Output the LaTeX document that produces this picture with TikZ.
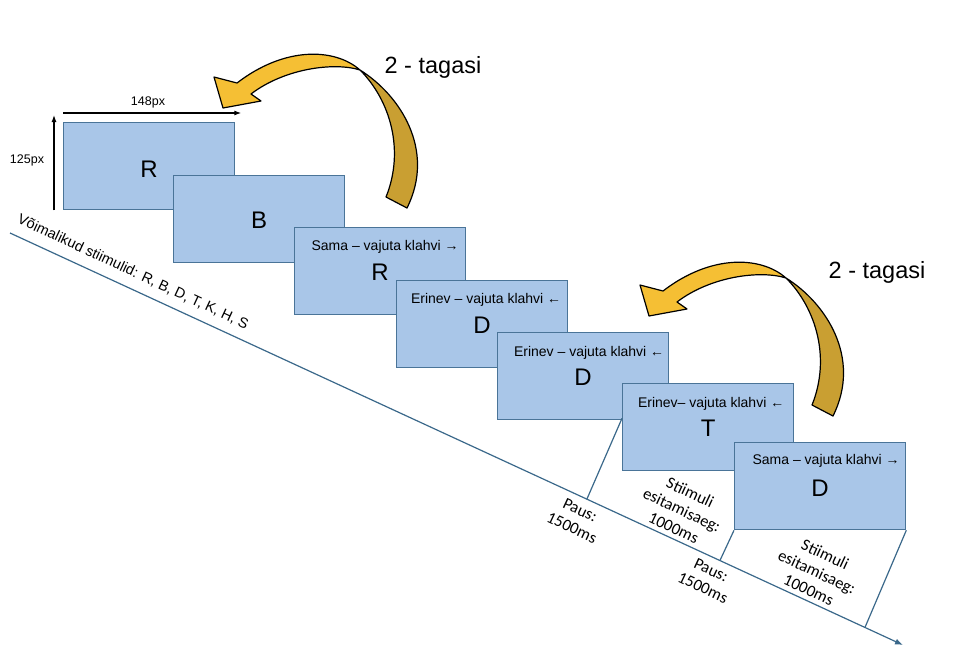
\documentclass[tikz,border=0pt]{standalone}
\usepackage{fontspec}
\setmainfont{Liberation Sans}
\newfontfamily\calfont{Carlito}
\usetikzlibrary{calc,arrows.meta}
\definecolor{boxfill}{RGB}{169,198,232}
\definecolor{boxline}{RGB}{74,116,152}
\definecolor{tline}{RGB}{58,104,138}
\definecolor{arrlight}{RGB}{245,191,52}
\definecolor{arrdark}{RGB}{201,159,50}
\begin{document}
\begin{tikzpicture}[x=1pt,y=-1pt,
  stim/.style={draw=boxline, fill=boxfill, line width=1.3pt, minimum width=171pt, minimum height=87pt, anchor=north west, inner sep=0pt},
  cue/.style={font=\fontsize{14}{17}\selectfont, anchor=base, inner sep=0pt},
  letter/.style={font=\fontsize{24}{28}\selectfont, anchor=base, inner sep=0pt},
  tl/.style={draw=tline, line width=1.2pt},
  tlabel/.style={font=\calfont\fontsize{16.5}{19.5}\selectfont, align=center, rotate=-25, inner sep=0pt},
  dim/.style={draw=black, line width=1.2pt, -{Latex[length=7pt,width=5pt]}},
  curv/.style={draw=black, line width=1.2pt, line join=round},
  bigtxt/.style={font=\fontsize{23.5}{27}\selectfont, anchor=base, inner sep=0pt},
  curvarrow/.pic={
    \draw[curv, fill=arrdark] (360,70) .. controls (400,95) and (436,150) .. (407,208)
      -- (386,197) .. controls (405,150) and (390,100) .. (360,70) -- cycle;
    \draw[curv, fill=arrlight] (360,70) .. controls (335,48) and (285,46) .. (237,83)
      -- (214,77) -- (223,108) -- (261,101) -- (251,94)
      .. controls (285,68) and (335,62) .. (360,70) -- cycle;
  }
]
\useasboundingbox (0,0) rectangle (975,662);

% timeline
\coordinate (t0) at (10,233);
\coordinate (t1) at (903,645);
\draw[tl, -{Latex[length=8pt,width=6pt]}] (t0) -- (t1);

% stimulus boxes
\node[stim] (b1) at (63,122) {};
\node[stim] (b2) at (173,175) {};
\node[stim] (b3) at (294,227) {};
\node[stim] (b4) at (396,280) {};
\node[stim] (b5) at (497,332) {};
\node[stim] (b6) at (622,383) {};
\node[stim] (b7) at (734,442) {};

% segment lines
\coordinate (m1) at ($(t0)!0.646!(t1)$);
\coordinate (m2) at ($(t0)!0.795!(t1)$);
\coordinate (m3) at ($(t0)!0.9574!(t1)$);
\coordinate (e6) at ($(b6.north west)!0.4!(b6.south west)$);
\draw[tl] (m1) -- (e6);
\draw[tl] (m2) -- (b7.south west);
\draw[tl] (m3) -- (b7.south east);

% box texts
\node[letter] (l1) at ($(b1.north)+(0,55)$) {R};
\node[letter] (l2) at ($(b2.north)+(0,53)$) {B};
\node[cue] (c3) at ($(b3.north)+(5,23)$) {Sama – vajuta klahvi →};
\node[letter] (l3) at ($(b3.north)+(0,53)$) {R};
\node[cue] (c4) at ($(b4.north)+(4,23)$) {Erinev – vajuta klahvi ←};
\node[letter] (l4) at ($(b4.north)+(0,53)$) {D};
\node[cue] (c5) at ($(b5.north)+(6,24)$) {Erinev – vajuta klahvi ←};
\node[letter] (l5) at ($(b5.north)+(0,53)$) {D};
\node[cue] (c6) at ($(b6.north)+(3,24)$) {Erinev– vajuta klahvi ←};
\node[letter] (l6) at ($(b6.north)+(0,53)$) {T};
\node[cue] (c7) at ($(b7.north)+(6,22)$) {Sama – vajuta klahvi →};
\node[letter] (l7) at ($(b7.north)+(0,54)$) {D};

% dimension arrows
\coordinate (h0) at ($(b1.north west)+(0,-9)$);
\coordinate (h1) at ($(b1.north east)+(6,-9)$);
\draw[dim] (h0) -- (h1);
\node[font=\fontsize{12.5}{15}\selectfont] (wlab) at (148,102) {148px};
\coordinate (v0) at ($(b1.south west)+(-9,0)$);
\coordinate (v1) at ($(b1.north west)+(-9,-7)$);
\draw[dim] (v0) -- (v1);
\node[font=\fontsize{12.5}{15}\selectfont] (hlab) at (27,160) {125px};

% rotated labels
\node[font=\fontsize{14.5}{17}\selectfont, rotate=-25, inner sep=0pt] (vs) at (133,272) {Võimalikud stiimulid: R, B, D, T, K, H, S};
\node[tlabel] (p1) at (576,519) {Paus:\\1500ms};
\node[tlabel] (s1) at (682,510) {Stiimuli\\esitamisaeg:\\1000ms};
\node[tlabel] (p2) at (707,579) {Paus:\\1500ms};
\node[tlabel] (s2) at (817,572) {Stiimuli\\esitamisaeg:\\1000ms};

% curved arrows
\pic at (0,0) {curvarrow};
\pic at (426,208) {curvarrow};
\node[bigtxt] (g1) at (433,73) {2 - tagasi};
\node[bigtxt] (g2) at (877,278) {2 - tagasi};
\end{tikzpicture}
\end{document}
